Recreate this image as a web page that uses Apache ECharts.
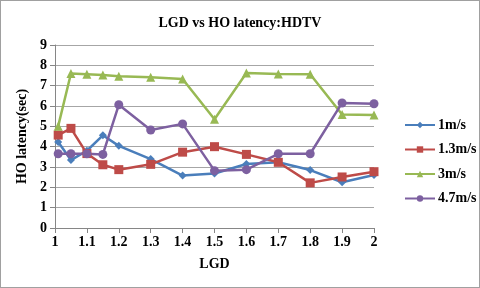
<!DOCTYPE html>
<html><head><meta charset="utf-8">
<script src="https://cdn.jsdelivr.net/npm/echarts@6/dist/echarts.min.js"></script>
<style>html,body{margin:0;padding:0;background:#fff}#c{width:480px;height:288px;box-sizing:border-box;border:1px solid #a0a0a0}</style>
</head><body><div id="c"></div>
<script>
const lgd = [1.01, 1.05, 1.1, 1.15, 1.2, 1.3, 1.4, 1.5, 1.6, 1.7, 1.8, 1.9, 2];
const s1 = [4.23, 3.34, 3.8, 4.56, 4.04, 3.39, 2.58, 2.68, 3.15, 3.23, 2.85, 2.25, 2.61];
const s13 = [4.57, 4.9, 3.66, 3.11, 2.87, 3.13, 3.73, 4.0, 3.62, 3.23, 2.22, 2.51, 2.77];
const s3 = [5.01, 7.6, 7.56, 7.52, 7.46, 7.41, 7.33, 5.35, 7.62, 7.57, 7.56, 5.58, 5.56];
const s47 = [3.65, 3.65, 3.65, 3.62, 6.06, 4.82, 5.12, 2.82, 2.87, 3.65, 3.65, 6.15, 6.11];
const names = ['1m/s', '1.3m/s', '3m/s', '4.7m/s'];
const colors = ['#4a7ebb', '#be4b48', '#98b954', '#7d60a0'];
const symbols = ['diamond', 'rect', 'triangle', 'circle'];
const sizes = [8, 9, 9, 9];
const font = '"Liberation Serif", "Times New Roman", serif';
const all = [s1, s13, s3, s47];
const chart = echarts.init(document.getElementById('c'));
chart.setOption({
  animation: false,
  title: {text: 'LGD vs HO latency:HDTV', left: 'center', top: 10,
    textStyle: {fontFamily: font, fontWeight: 'bold', fontSize: 14, color: '#000'}},
  grid: {left: 54, right: 105, top: 44, bottom: 59},
  legend: {orient: 'vertical', left: 398, top: 112, itemGap: 10.5, itemWidth: 30, itemHeight: 8,
    textStyle: {fontFamily: font, fontWeight: 'bold', fontSize: 14, color: '#000', padding: [0, 0, 0, -2]},
    data: names},
  xAxis: {type: 'value', min: 1, max: 2, interval: 0.1, name: 'LGD', nameLocation: 'middle', nameGap: 29,
    nameTextStyle: {fontFamily: font, fontWeight: 'bold', fontSize: 14, color: '#000'},
    axisLine: {lineStyle: {color: '#868686'}}, axisTick: {show: true, lineStyle: {color: '#868686'}},
    axisLabel: {fontFamily: font, fontWeight: 'bold', fontSize: 14, color: '#000', margin: 7,
      formatter: v => String(Math.round(v * 10) / 10)},
    splitLine: {show: false}},
  yAxis: {type: 'value', min: 0, max: 9, interval: 1, name: 'HO latency(sec)', nameLocation: 'middle', nameGap: 22,
    nameTextStyle: {fontFamily: font, fontWeight: 'bold', fontSize: 14, color: '#000'},
    axisLine: {show: true, lineStyle: {color: '#868686'}}, axisTick: {show: true, lineStyle: {color: '#868686'}},
    axisLabel: {fontFamily: font, fontWeight: 'bold', fontSize: 14, color: '#000', margin: 8},
    splitLine: {lineStyle: {color: '#a6a6a6'}}},
  series: all.map((d, i) => ({
    name: names[i], type: 'line', data: d.map((v, j) => [lgd[j], v]),
    symbol: symbols[i], symbolSize: sizes[i], showAllSymbol: true,
    lineStyle: {width: 2.5, color: colors[i]}, itemStyle: {color: colors[i]}
  }))
});
</script></body></html>
